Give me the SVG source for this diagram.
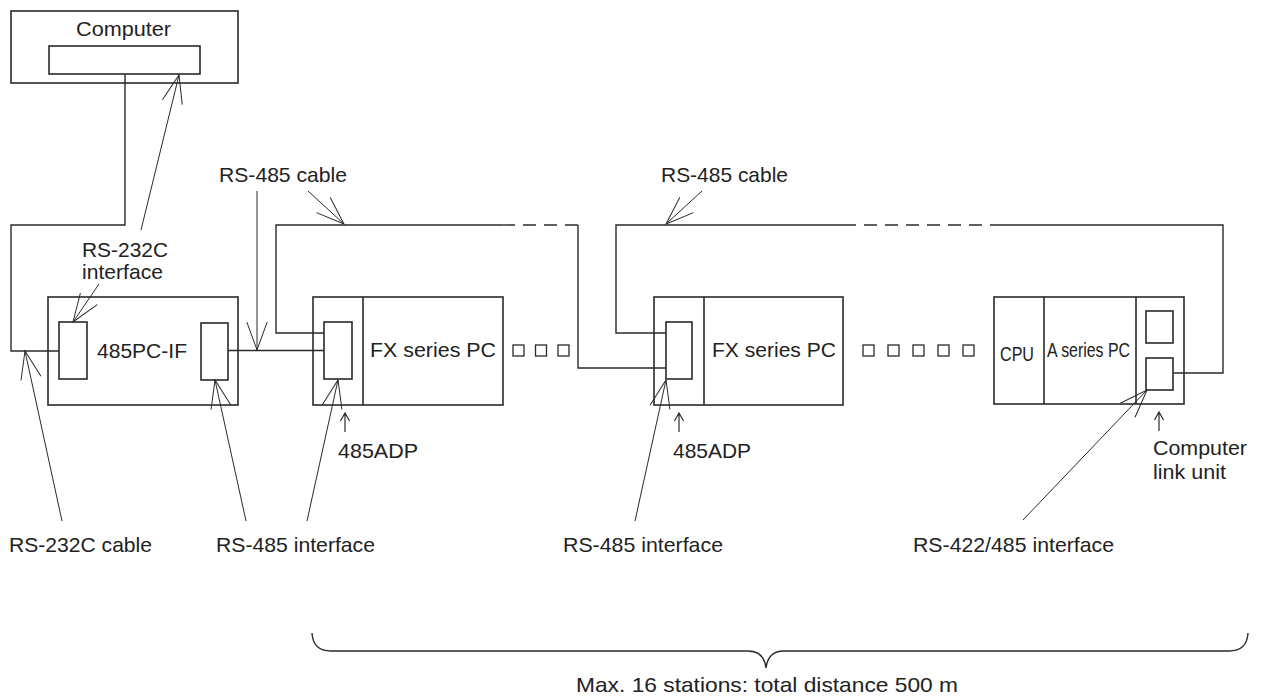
<svg xmlns="http://www.w3.org/2000/svg" width="1261" height="698" viewBox="0 0 1261 698">
<style>
  .box{fill:none;stroke:#2a2a2a;stroke-width:1.6}
  .wire{fill:none;stroke:#2a2a2a;stroke-width:1.4}
  .dash{fill:none;stroke:#2a2a2a;stroke-width:1.4;stroke-dasharray:13 8}
  .ptr{fill:none;stroke:#2a2a2a;stroke-width:1;marker-end:url(#vee)}
  .sq{fill:none;stroke:#2a2a2a;stroke-width:1.3}
  .up{fill:none;stroke:#2a2a2a;stroke-width:1.2}
  text{font-family:"Liberation Sans",Arial,Helvetica,sans-serif;fill:#222;font-size:21px}
  .cond{font-size:20px}
</style>
<defs>
  <marker id="vee" markerUnits="userSpaceOnUse" orient="auto" refX="0" refY="0" markerWidth="40" markerHeight="40" overflow="visible">
    <path d="M-28,-10.2 L0,0 L-28,10.2" fill="none" stroke="#2a2a2a" stroke-width="1"/>
  </marker>
  <path id="uparrow" d="M0,0 V-19 M-4.5,-11 L0,-19 L4.5,-11"/>
</defs>
<rect width="1261" height="698" fill="#fff"/>

<g id="computer">
  <rect class="box" x="11" y="11" width="227" height="72"/>
  <rect class="box" x="49" y="46" width="151" height="28"/>
  <text x="76" y="36" textLength="95" lengthAdjust="spacingAndGlyphs" class="cond">Computer</text>
</g>

<g id="pcif">
  <rect class="box" x="48" y="297" width="190" height="108"/>
  <rect class="box" x="59" y="322" width="28" height="57"/>
  <rect class="box" x="201" y="323" width="27" height="57"/>
  <text x="97" y="358" textLength="90" lengthAdjust="spacingAndGlyphs" class="cond">485PC-IF</text>
</g>

<g id="fx1">
  <rect class="box" x="313" y="297" width="190" height="108"/>
  <line class="box" x1="363" y1="297" x2="363" y2="405"/>
  <rect class="box" x="324" y="322" width="28" height="57"/>
  <text x="370" y="357" textLength="126" lengthAdjust="spacingAndGlyphs">FX series PC</text>
</g>

<g id="fx2">
  <rect class="box" x="654" y="297" width="189" height="108"/>
  <line class="box" x1="704" y1="297" x2="704" y2="405"/>
  <rect class="box" x="666" y="322" width="26" height="57"/>
  <text x="712" y="357" textLength="124" lengthAdjust="spacingAndGlyphs">FX series PC</text>
</g>

<g id="aseries">
  <rect class="box" x="994" y="297" width="190" height="107"/>
  <line class="box" x1="1044" y1="297" x2="1044" y2="404"/>
  <line class="box" x1="1136" y1="297" x2="1136" y2="404"/>
  <rect class="box" x="1146" y="311" width="27" height="32"/>
  <rect class="box" x="1146" y="358" width="27" height="32"/>
  <text x="1000" y="361" textLength="34" lengthAdjust="spacingAndGlyphs" font-size="24">CPU</text>
  <text x="1047" y="357" textLength="83" lengthAdjust="spacingAndGlyphs" font-size="18">A series PC</text>
</g>

<g id="ellipsis1">
  <rect class="sq" x="513" y="345" width="11" height="11"/>
  <rect class="sq" x="535.5" y="345" width="11" height="11"/>
  <rect class="sq" x="558" y="345" width="11" height="11"/>
</g>
<g id="ellipsis2">
  <rect class="sq" x="863" y="345" width="11" height="11"/>
  <rect class="sq" x="888" y="345" width="11" height="11"/>
  <rect class="sq" x="913" y="345" width="11" height="11"/>
  <rect class="sq" x="938" y="345" width="11" height="11"/>
  <rect class="sq" x="963" y="345" width="11" height="11"/>
</g>

<g id="connectors">
  <polyline class="wire" points="125,74 125,225 11,225 11,351 59,351"/>
  <polyline class="wire" points="228,350.5 324,350.5"/>
  <polyline class="wire" points="324,333 276,333 276,225 502,225"/>
  <line class="dash" x1="502" y1="225" x2="578" y2="225"/>
  <polyline class="wire" points="578,225 578,368 666,368"/>
  <polyline class="wire" points="666,333 616,333 616,225 843,225"/>
  <line class="dash" x1="843" y1="225" x2="993" y2="225"/>
  <polyline class="wire" points="993,225 1223,225 1223,373 1173,373"/>

  <line class="ptr" x1="141" y1="230" x2="179" y2="75"/>
  <line class="ptr" x1="99" y1="284" x2="73" y2="322"/>
  <line class="ptr" x1="62" y1="521" x2="25" y2="351"/>
  <line class="ptr" x1="257" y1="191" x2="257" y2="350"/>
  <line class="ptr" x1="308" y1="191" x2="344" y2="224"/>
  <line class="ptr" x1="702" y1="191" x2="666" y2="224"/>
  <line class="ptr" x1="246" y1="521" x2="215" y2="380"/>
  <line class="ptr" x1="307" y1="521" x2="338" y2="380"/>
  <line class="ptr" x1="635" y1="521" x2="666" y2="380"/>
  <line class="ptr" x1="1023" y1="520" x2="1147" y2="390"/>

  <use href="#uparrow" class="up" x="345" y="432"/>
  <use href="#uparrow" class="up" x="679" y="432"/>
  <use href="#uparrow" class="up" x="1159" y="431"/>

  <path class="wire" d="M312,633 Q313,651 331,651 L748,651 Q764,651 766,668 Q768,651 784,651 L1229,651 Q1247,651 1248,633"/>
</g>

<g id="labels">
  <text x="82" y="257" textLength="86" lengthAdjust="spacingAndGlyphs">RS-232C</text>
  <text x="82" y="279" textLength="81" lengthAdjust="spacingAndGlyphs">interface</text>
  <text x="219" y="182" textLength="128" lengthAdjust="spacingAndGlyphs">RS-485 cable</text>
  <text x="661" y="182" textLength="127" lengthAdjust="spacingAndGlyphs">RS-485 cable</text>
  <text x="338" y="458" textLength="80" lengthAdjust="spacingAndGlyphs">485ADP</text>
  <text x="673" y="458" textLength="78" lengthAdjust="spacingAndGlyphs">485ADP</text>
  <text x="1153" y="455" textLength="94" lengthAdjust="spacingAndGlyphs">Computer</text>
  <text x="1153" y="479" textLength="73" lengthAdjust="spacingAndGlyphs">link unit</text>
  <text x="9" y="552" textLength="143" lengthAdjust="spacingAndGlyphs">RS-232C cable</text>
  <text x="216" y="552" textLength="159" lengthAdjust="spacingAndGlyphs">RS-485 interface</text>
  <text x="563" y="552" textLength="160" lengthAdjust="spacingAndGlyphs">RS-485 interface</text>
  <text x="913" y="552" textLength="201" lengthAdjust="spacingAndGlyphs">RS-422/485 interface</text>
  <text x="576" y="692" font-size="20" textLength="382" lengthAdjust="spacingAndGlyphs">Max. 16 stations: total distance 500 m</text>
</g>
</svg>
